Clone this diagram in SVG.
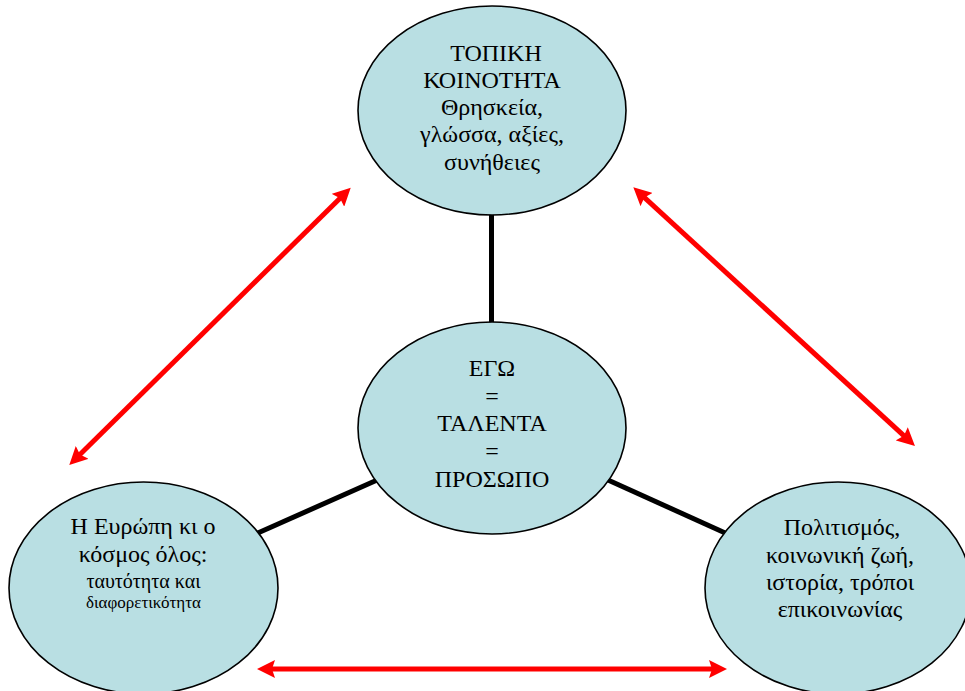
<svg xmlns="http://www.w3.org/2000/svg" width="965" height="691" viewBox="0 0 965 691">
<style>
.node ellipse{fill:#B9DFE3;stroke:#000;stroke-width:1.6}
.node text{font-family:"Liberation Serif","Times New Roman",serif;font-size:24px;fill:#000;text-anchor:middle}
.link{stroke:#000;stroke-width:5;fill:none}
.rel{stroke:#FF0000;stroke-width:5;fill:none;marker-start:url(#ah);marker-end:url(#ah)}
</style>
<defs>
<marker id="ah" viewBox="0 0 18 18" markerWidth="18" markerHeight="18" refX="8" refY="9" orient="auto-start-reverse" markerUnits="userSpaceOnUse">
<path d="M18,9 L0,0 L3,9 L0,18 Z" fill="#FF0000"/>
</marker>
</defs>
<g id="connectors">
<line class="link" x1="491.5" y1="205" x2="491.5" y2="332"/>
<line class="link" x1="255" y1="534.2" x2="380" y2="478.8"/>
<line class="link" x1="603" y1="477.7" x2="728" y2="534.3"/>
<line class="rel" x1="76.4" y1="458" x2="343.6" y2="194.7"/>
<line class="rel" x1="640.7" y1="194.1" x2="907.6" y2="439.2"/>
<line class="rel" x1="267" y1="669" x2="717" y2="669"/>
</g>
<g id="node-top" class="node">
<ellipse cx="492" cy="110.5" rx="134" ry="104.5"/>
<text x="496" y="61">ΤΟΠΙΚΗ</text>
<text x="492" y="87.5">ΚΟΙΝΟΤΗΤΑ</text>
<text x="492" y="114.5">Θρησκεία,</text>
<text x="492" y="142">γλώσσα, αξίες,</text>
<text x="492" y="170">συνήθειες</text>
</g>
<g id="node-center" class="node">
<ellipse cx="492" cy="428" rx="134" ry="106"/>
<text x="492" y="376">ΕΓΩ</text>
<text x="492" y="403.7">=</text>
<text x="492" y="431.4">ΤΑΛΕΝΤΑ</text>
<text x="492" y="459">=</text>
<text x="492" y="486.7">ΠΡΟΣΩΠΟ</text>
</g>
<g id="node-left" class="node">
<ellipse cx="143.5" cy="588" rx="134.5" ry="106"/>
<text x="143" y="534.3">Η Ευρώπη κι ο</text>
<text x="143" y="561.7">κόσμος όλος:</text>
<text x="143.5" y="588.3" style="font-size:20px">ταυτότητα και</text>
<text x="143.5" y="608.3" style="font-size:17px">διαφορετικότητα</text>
</g>
<g id="node-right" class="node">
<ellipse cx="838" cy="588" rx="133" ry="106"/>
<text x="842" y="535">Πολιτισμός,</text>
<text x="840" y="563.3">κοινωνική ζωή,</text>
<text x="840" y="590">ιστορία, τρόποι</text>
<text x="840" y="616.7">επικοινωνίας</text>
</g>
</svg>
